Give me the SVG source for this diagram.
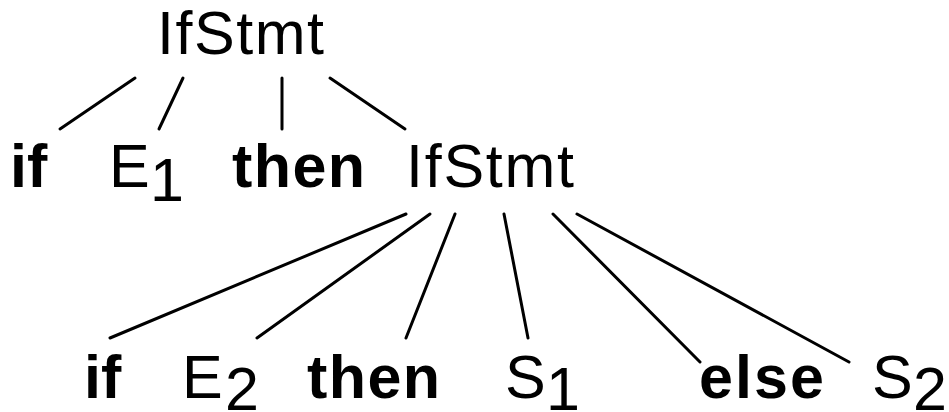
<svg xmlns="http://www.w3.org/2000/svg" width="949" height="412" viewBox="0 0 949 412">
  <style>
    .t { font-family: "Liberation Sans", Arial, Helvetica, sans-serif; font-size: 61px; fill: #000; }
    .kw { font-weight: bold; }
    .edge { stroke: #000; stroke-width: 3; stroke-linecap: round; fill: none; }
  </style>
  <rect width="949" height="412" fill="#fff"/>

  <!-- parse tree edges -->
  <g id="edges">
    <line class="edge" x1="135" y1="78" x2="60" y2="129"/>
    <line class="edge" x1="183" y1="78" x2="159" y2="129"/>
    <line class="edge" x1="282" y1="78" x2="282" y2="129"/>
    <line class="edge" x1="330" y1="78" x2="405" y2="129"/>

    <line class="edge" x1="406" y1="214" x2="110" y2="338"/>
    <line class="edge" x1="430" y1="214" x2="257" y2="338"/>
    <line class="edge" x1="455" y1="214" x2="406" y2="338"/>
    <line class="edge" x1="504" y1="214" x2="528" y2="338"/>
    <line class="edge" x1="553" y1="214" x2="700" y2="362"/>
    <line class="edge" x1="577" y1="214" x2="849" y2="362"/>
  </g>

  <!-- root -->
  <g id="n-ifstmt-root"><text class="t" x="157" y="54" textLength="167">IfStmt</text></g>

  <!-- level 1 -->
  <g id="n-if1"><text class="t kw" x="10" y="187">if</text></g>
  <g id="n-e1"><text class="t" x="109" y="187">E<tspan x="150" y="201">1</tspan></text></g>
  <g id="n-then1"><text class="t kw" x="232" y="187" textLength="133">then</text></g>
  <g id="n-ifstmt-inner"><text class="t" x="406" y="187" textLength="168">IfStmt</text></g>

  <!-- level 2 -->
  <g id="n-if2"><text class="t kw" x="84" y="398">if</text></g>
  <g id="n-e2"><text class="t" x="182" y="398">E<tspan x="225" y="410">2</tspan></text></g>
  <g id="n-then2"><text class="t kw" x="307" y="398" textLength="133">then</text></g>
  <g id="n-s1"><text class="t" x="505" y="398">S<tspan x="546" y="410">1</tspan></text></g>
  <g id="n-else"><text class="t kw" x="699" y="398" textLength="125">else</text></g>
  <g id="n-s2"><text class="t" x="872" y="398">S<tspan x="913" y="410">2</tspan></text></g>
</svg>
